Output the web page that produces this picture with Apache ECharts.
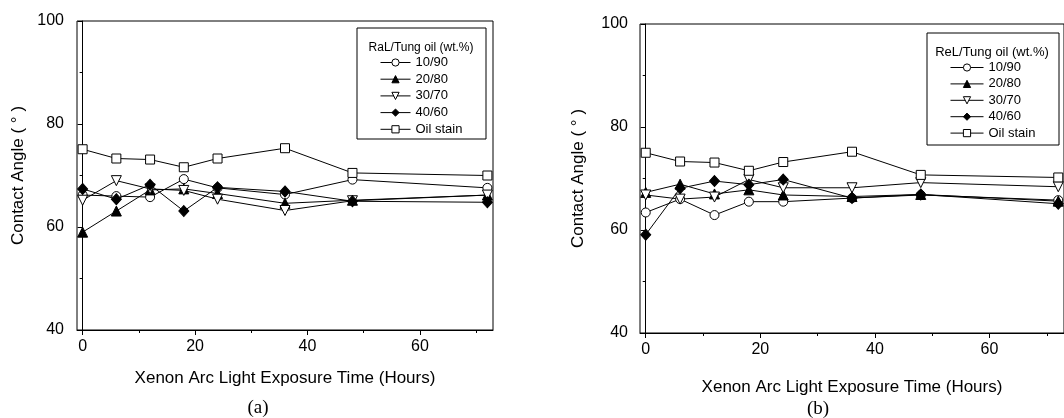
<!DOCTYPE html>
<html>
<head>
<meta charset="utf-8">
<script src="https://cdn.jsdelivr.net/npm/echarts@6/dist/echarts.min.js"></script>
<style>
html, body { margin: 0; padding: 0; background: #fff; overflow: hidden; }
#chart { width: 1064px; height: 418px; }
</style>
</head>
<body>
<div id="chart"></div>
<script>
// exposure time (hours)
var hours = [0, 6, 12, 18, 24, 36, 48, 72];
var names = ['10/90', '20/80', '30/70', '40/60', 'Oil stain'];

// (a) RaL / tung oil
var a10_90 = [66.2, 66.0, 65.8, 69.3, 67.6, 66.3, 69.2, 67.6];
var a20_80 = [59.0, 63.1, 67.2, 67.4, 66.5, 64.6, 65.2, 66.2];
var a30_70 = [65.2, 69.0, 67.4, 67.1, 65.4, 63.2, 65.1, 66.2];
var a40_60 = [67.4, 65.4, 68.2, 63.1, 67.7, 66.9, 65.0, 64.8];
var aOil = [75.1, 73.3, 73.1, 71.6, 73.3, 75.3, 70.5, 70.0];

// (b) ReL / tung oil
var b10_90 = [63.4, 66.0, 62.9, 65.5, 65.5, 66.2, 66.8, 65.8];
var b20_80 = [67.3, 68.9, 67.0, 67.8, 66.8, 66.5, 66.9, 65.6];
var b30_70 = [66.8, 66.0, 66.4, 69.8, 68.2, 68.2, 69.2, 68.4];
var b40_60 = [59.1, 68.1, 69.5, 68.8, 69.8, 66.2, 66.9, 65.1];
var bOil = [75.0, 73.3, 73.1, 71.5, 73.2, 75.2, 70.7, 70.2];

var xMajor = [0, 20, 40, 60];
var xMinor = [10, 30, 50, 70];

var FONT = '"Liberation Sans", Arial, sans-serif';

// marker look for each composition
var marks = [
    { symbol: 'circle', size: 9, rotate: 0, fill: '#fff' },
    { symbol: 'triangle', size: 10, rotate: 0, fill: '#000' },
    { symbol: 'triangle', size: 10, rotate: 180, fill: '#fff' },
    { symbol: 'diamond', size: [10, 11], rotate: 0, fill: '#000' },
    { symbol: 'rect', size: 9, rotate: 0, fill: '#fff' }
];

function pairs(vals) {
    return hours.map(function (h, i) { return [h, vals[i]]; });
}

function makeSeries(list, gi) {
    return list.map(function (vals, i) {
        var m = marks[i];
        return {
            type: 'line',
            name: names[i],
            xAxisIndex: gi * 2,
            yAxisIndex: gi,
            data: pairs(vals),
            symbol: m.symbol,
            symbolSize: m.size,
            symbolRotate: m.rotate,
            showAllSymbol: true,
            lineStyle: { color: '#000', width: 1 },
            itemStyle: { color: m.fill, borderColor: '#000', borderWidth: 1 },
            emphasis: { disabled: true }
        };
    });
}

function xAxes(gi, gap) {
    return [{
        type: 'value', gridIndex: gi, min: -1, max: 73,
        axisLine: { onZero: false, lineStyle: { color: '#000', width: 1 } },
        axisTick: { customValues: xMajor, length: 5, lineStyle: { color: '#000' } },
        axisLabel: { customValues: xMajor, color: '#000', fontSize: 16, fontFamily: FONT, margin: 9 },
        splitLine: { show: false },
        name: 'Xenon Arc Light Exposure Time (Hours)',
        nameLocation: 'middle', nameGap: gap,
        nameTextStyle: { color: '#000', fontSize: 17, fontFamily: FONT }
    }, {
        type: 'value', gridIndex: gi, min: -1, max: 73, position: 'bottom',
        axisLine: { show: false },
        axisTick: { customValues: xMinor, length: 3, lineStyle: { color: '#000' } },
        axisLabel: { show: false },
        splitLine: { show: false }
    }];
}

function yAxis(gi, gap, margin) {
    return {
        type: 'value', gridIndex: gi, min: 40, max: 100, interval: 20,
        axisLine: { show: true, lineStyle: { color: '#000', width: 1 } },
        axisTick: { show: true, length: 5, lineStyle: { color: '#000' } },
        minorTick: { show: true, splitNumber: 2, length: 3, lineStyle: { color: '#000' } },
        axisLabel: { color: '#000', fontSize: 16, fontFamily: FONT, margin: margin },
        splitLine: { show: false },
        name: 'Contact Angle ( ° )',
        nameLocation: 'middle', nameGap: gap,
        nameTextStyle: { color: '#000', fontSize: 17, fontFamily: FONT }
    };
}

function legendAt(left, top, w, size, gap) {
    return {
        orient: 'vertical', left: left, top: top, padding: 0,
        itemWidth: w, itemHeight: 9, itemGap: gap,
        selectedMode: false,
        lineStyle: { width: 1, color: '#000' },
        itemStyle: { borderWidth: 1, borderColor: '#000' },
        textStyle: { color: '#000', fontSize: size, lineHeight: 12, fontFamily: FONT },
        data: names
    };
}

function boxText(txt, x, y, size, family) {
    return {
        type: 'text', x: x, y: y,
        style: { text: txt, fill: '#000', fontSize: size, fontFamily: family || FONT,
                 textAlign: 'center', textVerticalAlign: 'middle' }
    };
}

var chart = echarts.init(document.getElementById('chart'), null, { renderer: 'canvas' });

chart.setOption({
    animation: false,
    backgroundColor: '#fff',
    grid: [
        { left: 77, top: 21, width: 416, height: 309, show: true, borderColor: '#000', borderWidth: 1, containLabel: false },
        { left: 640, top: 24, width: 426, height: 309, show: true, borderColor: '#000', borderWidth: 1, containLabel: false }
    ],
    xAxis: xAxes(0, 40).concat(xAxes(1, 46)),
    yAxis: [yAxis(0, 50, 13), yAxis(1, 53, 12)],
    legend: [
        legendAt(380, 56, 30, 13, 3.7),
        legendAt(950, 61, 33, 13, 3.4)
    ],
    graphic: [
        { type: 'rect', shape: { x: 357, y: 28, width: 129, height: 111 },
          style: { fill: 'none', stroke: '#000', lineWidth: 1 } },
        { type: 'rect', shape: { x: 927, y: 33, width: 132, height: 112 },
          style: { fill: 'none', stroke: '#000', lineWidth: 1 } },
        boxText('RaL/Tung oil (wt.%)', 421, 48, 12),
        boxText('ReL/Tung oil (wt.%)', 992, 52, 13),
        boxText('(a)', 258, 408, 19, '"Liberation Serif", "Times New Roman", serif'),
        boxText('(b)', 818, 409, 19, '"Liberation Serif", "Times New Roman", serif')
    ],
    series: makeSeries([a10_90, a20_80, a30_70, a40_60, aOil], 0)
        .concat(makeSeries([b10_90, b20_80, b30_70, b40_60, bOil], 1))
});
</script>
</body>
</html>
